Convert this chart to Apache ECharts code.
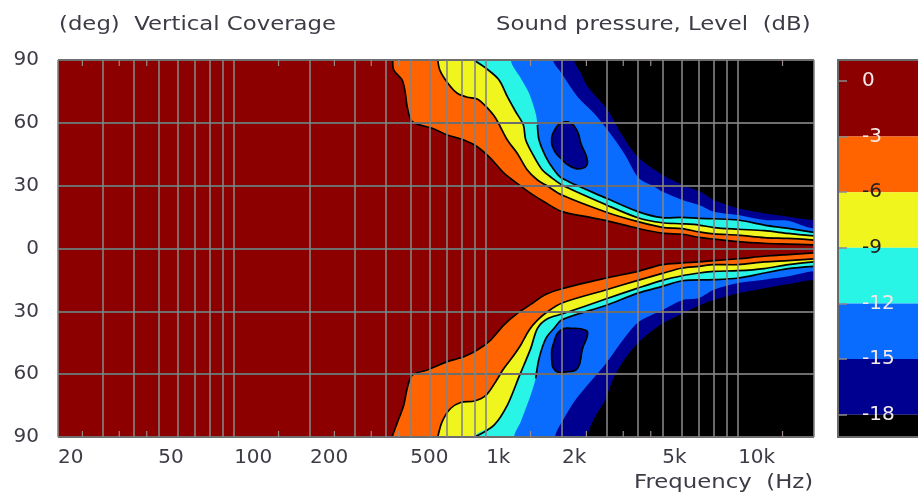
<!DOCTYPE html>
<html><head><meta charset="utf-8">
<style>html,body{margin:0;padding:0;background:#fff}#c{width:918px;height:498px;filter:blur(0.6px)}</style>
<script src="https://cdn.jsdelivr.net/npm/echarts@6/dist/echarts.min.js"></script>
</head><body><div id="c"></div>
<script>
const freqLabels = [20,50,100,200,500,1000,2000,5000,10000];
const gridFreqs = [20,30,40,50,60,70,80,90,100,200,300,400,500,600,700,800,900,1000,2000,3000,4000,5000,6000,7000,8000,9000,10000,20000];
const minorFreqs = [25,35,45,150,250,350,450,1500,2500,3500,4500,15000];
const dbTicks = [0,-3,-6,-9,-12,-15,-18];
const dbEdges = [1.13,-3,-6,-9,-12,-15,-18,-19.2];
const palette = ['#8c0000','#ff6400','#f0f51e','#28f5e6','#0a6cff','#000090','#000000'];

const upper3 = [[426,90],[430,85.2],[464,80.5],[478,74.1],[486,67.7],[509,60.6],[611,57.4],[701,54.2],[816,51.8],[922,48.6],[1042,43],[1177,36],[1330,31],[1503,26.3],[1698,22.3],[2000,17.6],[2500,15.2],[3000,13.3],[4000,9.6],[5000,7.3],[6000,6.8],[7000,5.3],[8000,4.5],[10000,3.3],[12700,2.5],[15800,2.1],[20000,1.7]];
const upper6 = [[643,90],[655,85.2],[705,78.9],[768,74.1],[842,72.2],[922,71.4],[1000,67.7],[1091,62.2],[1214,51.8],[1330,45.4],[1457,37.5],[1598,32.7],[1725,30.3],[2000,25.5],[3000,17.3],[4000,12.8],[5000,10.1],[6000,9.5],[7000,7.9],[8000,7],[10000,6.4],[12700,5.2],[15800,4.8],[20000,4]];
const upper9 = [[894,90],[1000,86],[1125,80.5],[1214,72.5],[1310,65.3],[1405,59],[1436,51.8],[1550,43.8],[1672,37.5],[1833,33.5],[2000,30.3],[3000,20.8],[4000,14.7],[5000,12.3],[6000,11.8],[7000,11.2],[8000,10],[10000,9.2],[12700,8.5],[15800,7.2],[20000,6]];
const upper12 = [[1252,90],[1372,81.3],[1480,74.1],[1573,64.5],[1598,59],[1622,51.8],[1725,43.8],[1861,37.5],[2000,33.5],[3000,24],[4000,17.6],[5000,14.7],[6000,14.9],[7000,14.4],[8000,14.2],[10000,13.6],[12700,11.2],[15800,9.6],[20000,7.7]];
const upper15 = [[1844,90],[1992,83.7],[2305,72.5],[2684,64.5],[3033,56.6],[3532,45.4],[4040,33.5],[4650,29.5],[5017,27.1],[6000,23.2],[7000,20.8],[8000,17.6],[10000,16],[12700,13.6],[15800,13.3],[20000,9.6]];
const upper18 = [[2235,90],[2376,83.7],[2525,77.3],[3033,66.1],[3426,55],[3990,43.8],[5017,35.1],[6026,30.3],[7083,27.1],[8000,23.2],[10000,19.2],[12700,16.8],[15800,15.2],[20000,13.6]];
const lower3 = [[423,-90],[443,-83.5],[471,-74.8],[486,-66.8],[509,-60.4],[583,-58],[701,-54],[816,-51.7],[922,-48.5],[1042,-43.7],[1177,-36.5],[1330,-31],[1503,-26.7],[1698,-22.3],[2000,-19.2],[3000,-14.1],[4000,-10.9],[5000,-7.7],[6000,-6.9],[7000,-6.4],[8000,-5.8],[10000,-4.9],[12700,-3.7],[15800,-2.9],[20000,-2.1]];
const lower6 = [[643,-90],[669,-82.7],[722,-76.4],[792,-73.5],[900,-72.8],[1000,-70],[1091,-63.6],[1177,-57.2],[1290,-50.9],[1372,-46.1],[1480,-39],[1598,-34.2],[1751,-30.2],[2000,-26],[3000,-19.7],[4000,-15.2],[5000,-11.9],[6000,-9.3],[7000,-8.5],[8000,-7.7],[10000,-7.7],[12700,-6.4],[15800,-5.8],[20000,-5]];
const lower9 = [[900,-90],[1075,-84.3],[1214,-74.8],[1351,-61.2],[1503,-47.7],[1598,-38.1],[1751,-33.5],[2000,-31.3],[3000,-24],[4000,-18.9],[5000,-15.2],[6000,-13],[7000,-11.7],[8000,-10.9],[10000,-10.6],[12700,-9.6],[15800,-7.7],[20000,-6.4]];
const lower12 = [[1290,-90],[1372,-82.7],[1436,-76.4],[1503,-70],[1573,-62],[1622,-52.5],[1725,-43],[1861,-38.1],[2000,-34],[3000,-27.1],[4000,-21.3],[5000,-18.1],[6000,-15.4],[8000,-14.9],[10000,-14.1],[12700,-11.7],[15800,-9.6],[20000,-8.5]];
const lower15 = [[1878,-90],[2039,-81.1],[2235,-73.2],[2525,-65.2],[2987,-54.9],[3532,-42.9],[4040,-35],[5017,-29.4],[6026,-24.6],[7000,-23.6],[8000,-19.7],[10000,-16.5],[12700,-14.9],[15800,-13.3],[20000,-10.9]];
const lower18 = [[2525,-90],[2684,-81.1],[2941,-73.2],[3223,-61.2],[3641,-50.9],[4115,-43.7],[5017,-35.7],[6026,-31],[7083,-27],[8000,-24.6],[10000,-21.4],[12700,-19],[15800,-17],[20000,-15]];
const islandUpper = [[1978,59.8],[2168,59.8],[2305,55.8],[2376,50.2],[2525,41.5],[2414,38.3],[2168,39.1],[1978,43.1],[1861,47],[1821,52.6],[1890,57.4]];
const islandLower = [[1978,-39],[2168,-38.1],[2487,-39],[2525,-41.3],[2414,-47.7],[2305,-57.2],[2103,-58.8],[1890,-58.5],[1821,-52.5],[1861,-44.5]];

const fontFamily = '"DejaVu Sans", sans-serif';
const textColor = '#3c3c46';
const smooth = 0.3;

function bandSeries(points, color, outerDeg, outlineFrom) {
  return {
    type: 'custom', coordinateSystem: 'cartesian2d', xAxisIndex: 0, yAxisIndex: 0, silent: true,
    data: points, encode: {x: 0, y: 1}, clip: true, z: 3,
    renderItem(params, api) {
      if (params.dataIndex !== 0) return null;
      const pts = points.map(p => api.coord(p));
      const children = [];
      if (outerDeg) {
        const last = points[points.length - 1];
        const poly = [api.coord([points[0][0], outerDeg])].concat(pts,
          [api.coord([40000, last[1]]), api.coord([40000, outerDeg])]);
        children.push({type: 'polygon', shape: {points: poly, smooth}, style: {fill: color}});
        if (outlineFrom !== null) {
          children.push({type: 'polyline', shape: {points: pts.slice(outlineFrom), smooth},
            style: {fill: null, stroke: '#000', lineWidth: 1.7, lineJoin: 'round'}});
        }
      } else {
        children.push({type: 'polygon', shape: {points: pts, smooth: 0.5},
          style: {fill: color, stroke: '#000', lineWidth: 1.7}});
      }
      return {type: 'group', children};
    }
  };
}
const contourSeries = [
  bandSeries(upper3, palette[1], 120, 0), bandSeries(lower3, palette[1], -120, 0),
  bandSeries(upper6, palette[2], 120, 0), bandSeries(lower6, palette[2], -120, 0),
  bandSeries(upper9, palette[3], 120, 0), bandSeries(lower9, palette[3], -120, 0),
  bandSeries(upper12, palette[4], 120, 4), bandSeries(lower12, palette[4], -120, 4),
  bandSeries(upper15, palette[5], 120, null), bandSeries(lower15, palette[5], -120, null),
  bandSeries(upper18, palette[6], 120, null), bandSeries(lower18, palette[6], -120, null),
  bandSeries(islandUpper, palette[5], null, null), bandSeries(islandLower, palette[5], null, null)
];

const minorSeries = {
  type: 'custom', xAxisIndex: 0, yAxisIndex: 0, silent: true, z: 6,
  data: minorFreqs.map(f => [f]), encode: {x: 0},
  renderItem(params, api) {
    const t = api.coord([api.value(0), 90]), b = api.coord([api.value(0), -90]);
    const st = {stroke: '#9a8a8a', lineWidth: 1.2};
    return {type: 'group', children: [
      {type: 'line', shape: {x1: t[0], y1: t[1], x2: t[0], y2: t[1] + 6}, style: st},
      {type: 'line', shape: {x1: b[0], y1: b[1], x2: b[0], y2: b[1] - 6}, style: st}
    ]};
  }
};

const barBands = palette.map((c, i) => [0, 1, dbEdges[i], dbEdges[i + 1], i]);
const colorbarSeries = {
  type: 'custom', xAxisIndex: 1, yAxisIndex: 1, silent: true, z: 3,
  data: barBands, encode: {x: [0, 1], y: [2, 3]},
  renderItem(params, api) {
    const a = api.coord([api.value(0), api.value(2)]), b = api.coord([api.value(1), api.value(3)]);
    return {type: 'rect', shape: {x: a[0], y: a[1], width: b[0] - a[0], height: b[1] - a[1]},
      style: {fill: palette[api.value(4)]}};
  }
};
const colorbarFrame = {
  type: 'custom', xAxisIndex: 1, yAxisIndex: 1, silent: true, z: 6,
  data: [[0, dbEdges[0], 1, dbEdges[dbEdges.length - 1]]], encode: {x: [0, 2], y: [1, 3]},
  renderItem(params, api) {
    const a = api.coord([api.value(0), api.value(1)]), b = api.coord([api.value(2), api.value(3)]);
    return {type: 'polyline', shape: {points: [[b[0], a[1]], a, [a[0], b[1]], b]},
      style: {fill: null, stroke: '#6a6a6a', lineWidth: 2}};
  }
};

function caption(text, x, y) {
  return {type: 'text', x, y, scaleX: 1.14, z: 10, silent: true,
    style: {text, font: '20px ' + fontFamily, fill: textColor, verticalAlign: 'middle', align: 'left'}};
}

const chart = echarts.init(document.getElementById('c'));
chart.setOption({
  animation: false,
  backgroundColor: '#fff',
  graphic: [
    caption('(deg)  Vertical Coverage', 59, 25),
    caption('Sound pressure, Level  (dB)', 496, 25),
    caption('Frequency  (Hz)', 634, 483)
  ],
  grid: [
    {left: 58, top: 60, width: 756, height: 377, backgroundColor: palette[0], show: true, borderWidth: 0},
    {left: 838, top: 60, width: 90, height: 377, show: false}
  ],
  xAxis: [
    {type: 'log', logBase: 10, min: 20, max: 20000, gridIndex: 0, z: 5,
     axisLine: {show: false},
     axisTick: {show: false, customValues: gridFreqs},
     minorTick: {show: false},
     axisLabel: {show: true, customValues: freqLabels, align: 'left', margin: 11, fontFamily, fontSize: 20, color: textColor,
       showMinLabel: true, showMaxLabel: true, hideOverlap: false,
       formatter: v => v >= 1000 ? (v / 1000) + 'k' : String(v)},
     splitLine: {show: true, lineStyle: {color: '#848484', width: 1.6}}},
    {type: 'value', min: 0, max: 1, gridIndex: 1, show: false}
  ],
  yAxis: [
    {type: 'value', min: -90, max: 90, interval: 30, gridIndex: 0, z: 5,
     axisLine: {show: false}, axisTick: {show: false},
     axisLabel: {margin: 19, padding: [2, 0, 0, 0], fontFamily, fontSize: 20, color: textColor, formatter: v => String(Math.abs(v))},
     splitLine: {show: true, lineStyle: {color: '#6e6e6e', width: 2}}},
    {type: 'value', min: dbEdges[dbEdges.length - 1], max: dbEdges[0], gridIndex: 1, z: 5,
     axisLine: {show: false},
     axisTick: {show: true, inside: true, length: 9, customValues: dbTicks, lineStyle: {color: '#8a8a8a', width: 1.5}},
     axisLabel: {inside: true, align: 'left', margin: 24, padding: [4, 0, 0, 0], customValues: dbTicks, fontFamily, fontSize: 20,
       showMinLabel: true, showMaxLabel: true, hideOverlap: false,
       color: v => (+v === -6 || +v === -9) ? '#222' : '#f4e8e8'},
     splitLine: {show: false}}
  ],
  series: contourSeries.concat([minorSeries, colorbarSeries, colorbarFrame])
});
</script></body></html>
